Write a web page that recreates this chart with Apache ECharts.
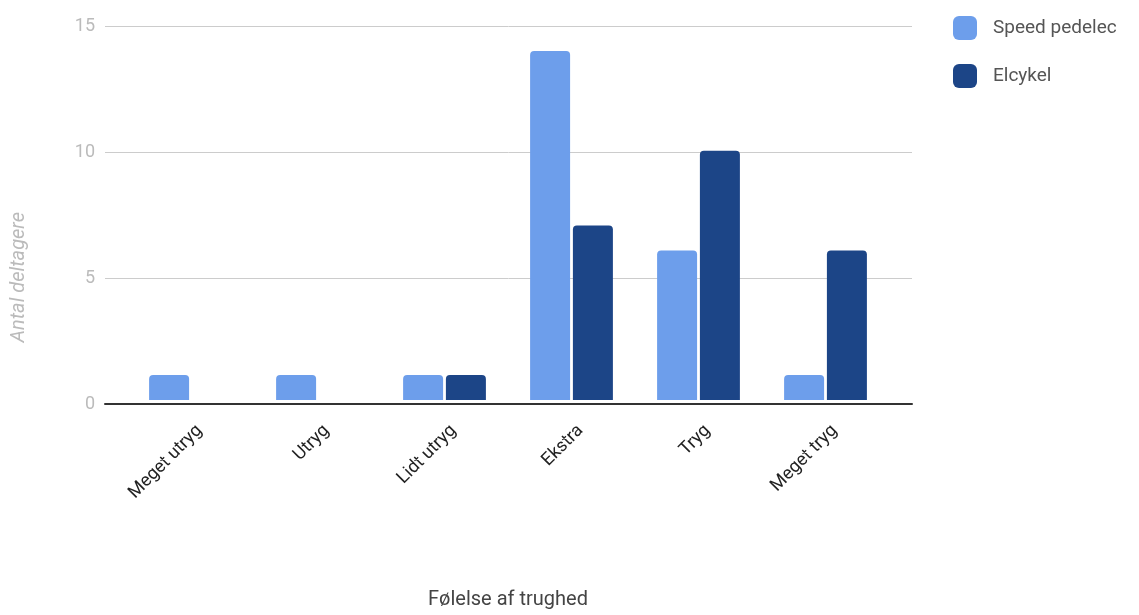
<!DOCTYPE html>
<html>
<head>
<meta charset="utf-8">
<script src="https://cdn.jsdelivr.net/npm/echarts@6/dist/echarts.min.js"></script>
<style>
  html, body { margin: 0; padding: 0; background: #fff; }
  #chart { width: 1139px; height: 615px; }
</style>
</head>
<body>
<div id="chart"></div>
<script>
// Survey answers: how safe the participants felt, per bike type
const categories = ['Meget utryg', 'Utryg', 'Lidt utryg', 'Ekstra', 'Tryg', 'Meget tryg'];
const speedPedelec = [1, 1, 1, 14, 6, 1];
const elcykel = [0, 0, 1, 7, 10, 6];
const yTicks = [0, 5, 10, 15];

const FONT = 'Roboto, "Noto Sans", sans-serif';
const chart = echarts.init(document.getElementById('chart'));

chart.setOption({
  animation: false,
  textStyle: { fontFamily: FONT },
  legend: {
    orient: 'vertical',
    left: 953,
    top: 16,
    padding: 0,
    itemWidth: 24,
    itemHeight: 24,
    itemGap: 24,
    icon: 'roundRect',
    textStyle: { fontSize: 19, color: '#555', fontFamily: FONT, padding: [0, 0, 0, 11] },
    data: ['Speed pedelec', 'Elcykel']
  },
  grid: [
    // frame carrying gridlines, tick labels and the baseline
    { left: 105, right: 227, top: 26, bottom: 211 },
    // inner area where the category bars sit
    { left: 127, right: 250, top: 26, bottom: 211 },
    // same categories, nudged right, carrying the slanted labels
    { left: 136, right: 241, top: 26, bottom: 211 }
  ],
  xAxis: [
    {
      gridIndex: 0, type: 'value', min: 0, max: 1,
      axisLine: { show: true, onZero: false, lineStyle: { color: '#333', width: 2 } },
      axisTick: { show: false }, axisLabel: { show: false }, splitLine: { show: false }
    },
    {
      gridIndex: 1, type: 'category', data: categories,
      axisLine: { show: false }, axisTick: { show: false }, axisLabel: { show: false },
      name: 'Følelse af trughed',
      nameLocation: 'middle',
      nameGap: 190,
      nameTextStyle: { fontSize: 20, color: '#444', fontFamily: FONT }
    },
    {
      gridIndex: 2, type: 'category', data: categories,
      axisLine: { show: false }, axisTick: { show: false },
      axisLabel: { rotate: 45, fontSize: 18, color: '#222', margin: 24, interval: 0, fontFamily: FONT }
    }
  ],
  yAxis: [
    {
      gridIndex: 0, type: 'value', min: 0, max: 15, interval: 5,
      axisLine: { show: false }, axisTick: { show: false },
      axisLabel: {
        fontSize: 18, color: '#bbb', margin: 10, fontFamily: FONT,
        formatter: v => (yTicks.includes(v) ? String(v) : '')
      },
      splitLine: { lineStyle: { color: '#ccc', width: 1 } }
    },
    {
      gridIndex: 1, type: 'value', min: 0, max: 15, interval: 5,
      axisLine: { show: false }, axisTick: { show: false },
      axisLabel: { show: false }, splitLine: { show: false }
    },
    {
      gridIndex: 2, type: 'value', min: 0, max: 15, interval: 5,
      axisLine: { show: false }, axisTick: { show: false },
      axisLabel: { show: false }, splitLine: { show: false }
    }
  ],
  graphic: [
    {
      type: 'text',
      left: 9, top: 212,
      rotation: Math.PI / 2,
      style: {
        text: 'Antal deltagere',
        fontSize: 20, fontStyle: 'italic', fill: '#bbb', fontFamily: FONT
      }
    }
  ],
  series: [
    {
      name: 'Speed pedelec', type: 'bar', xAxisIndex: 1, yAxisIndex: 1,
      data: speedPedelec, barWidth: 40, barGap: '7%',
      itemStyle: { color: '#6d9eeb', borderRadius: [4, 4, 0, 0] }
    },
    {
      name: 'Elcykel', type: 'bar', xAxisIndex: 1, yAxisIndex: 1,
      data: elcykel, barWidth: 40, barGap: '7%',
      itemStyle: { color: '#1c4587', borderRadius: [4, 4, 0, 0] }
    }
  ]
});
</script>
</body>
</html>
